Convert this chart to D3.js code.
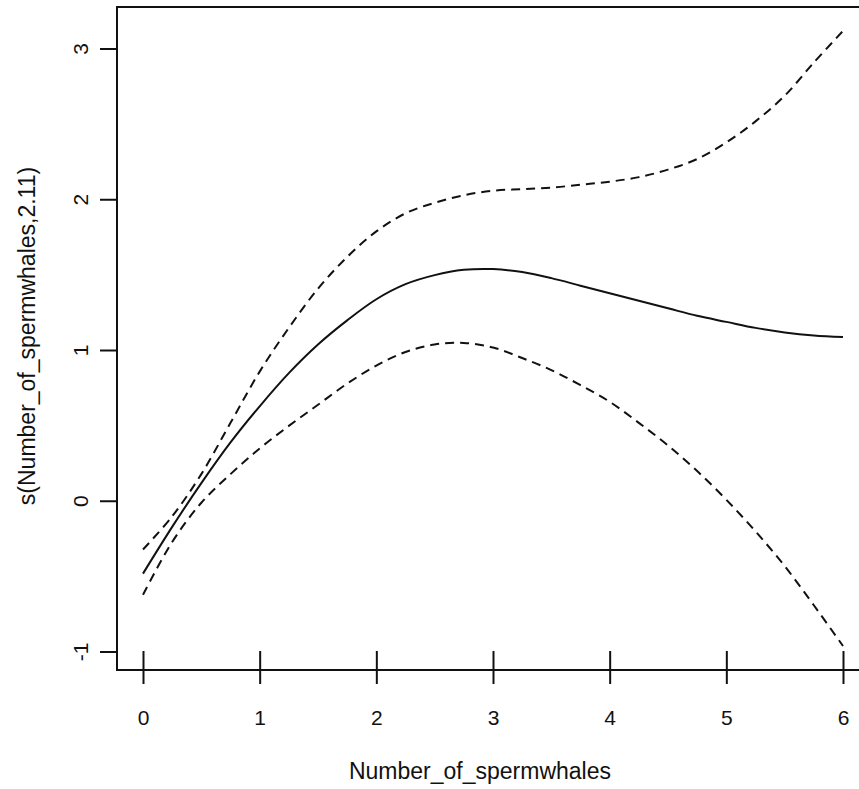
<!DOCTYPE html>
<html>
<head>
<meta charset="utf-8">
<script src="https://cdn.jsdelivr.net/npm/d3@7"></script>
<style>
  body { margin: 0; background: #fff; }
  svg { display: block; }
  text { font-family: 'Liberation Sans', Arial, sans-serif; fill: #111; }
</style>
</head>
<body>
<div id="chart"></div>
<script>
// grid of the smooth term
const xValues = [0, 0.25, 0.5, 0.75, 1, 1.25, 1.5, 1.75, 2, 2.25, 2.5, 2.75, 3,
  3.25, 3.5, 3.75, 4, 4.25, 4.5, 4.75, 5, 5.25, 5.5, 5.75, 6];
const fitValues = [-0.48, -0.17, 0.12, 0.39, 0.63, 0.85, 1.04, 1.20, 1.34, 1.44, 1.50, 1.535, 1.54,
  1.52, 1.48, 1.43, 1.38, 1.33, 1.28, 1.23, 1.19, 1.15, 1.12, 1.10, 1.09];
const upperValues = [-0.32, -0.10, 0.18, 0.52, 0.86, 1.15, 1.41, 1.62, 1.79, 1.91, 1.98, 2.03, 2.06,
  2.07, 2.08, 2.10, 2.12, 2.15, 2.20, 2.27, 2.38, 2.52, 2.69, 2.91, 3.12];
const lowerValues = [-0.62, -0.27, -0.01, 0.18, 0.35, 0.50, 0.64, 0.78, 0.90, 0.99, 1.04, 1.05, 1.02,
  0.95, 0.87, 0.77, 0.66, 0.52, 0.37, 0.20, 0.01, -0.20, -0.43, -0.69, -0.96];

const xTicks = [0, 1, 2, 3, 4, 5, 6];
const yTicks = [-1, 0, 1, 2, 3];
const xTitle = 'Number_of_spermwhales';
const yTitle = 's(Number_of_spermwhales,2.11)';

const width = 859;
const height = 789;
const ink = '#111';

const svg = d3.select('#chart')
  .append('svg')
  .attr('width', width)
  .attr('height', height);

const x = d3.scaleLinear().domain([0, 6]).range([143, 843]);
const y = d3.scaleLinear().domain([-1, 3]).range([652, 49]);

// box: left, top, bottom (right side runs off the picture)
const boxLeft = 117;
const boxTop = 7;
const boxBottom = 670;
svg.append('path')
  .attr('d', `M${width + 5},${boxTop}H${boxLeft}V${boxBottom}H${width + 5}`)
  .attr('fill', 'none')
  .attr('stroke', ink)
  .attr('stroke-width', 2);

// x axis: ticks crossing the bottom line
const xAxis = svg.append('g')
  .attr('transform', 'translate(0,651)')
  .call(d3.axisBottom(x)
    .tickValues(xTicks)
    .tickSize(33)
    .tickPadding(26)
    .tickFormat(d3.format('d')));
xAxis.select('.domain').remove();
xAxis.selectAll('line').attr('stroke', ink).attr('stroke-width', 2);
xAxis.selectAll('text')
  .attr('fill', ink)
  .style('font-size', '21px')
  .style('font-family', "'Liberation Sans', Arial, sans-serif");

// y axis ticks
svg.append('g')
  .selectAll('line')
  .data(yTicks)
  .enter()
  .append('line')
  .attr('x1', 100)
  .attr('x2', boxLeft)
  .attr('y1', d => y(d))
  .attr('y2', d => y(d))
  .attr('stroke', ink)
  .attr('stroke-width', 2);

svg.append('g')
  .selectAll('text')
  .data(yTicks)
  .enter()
  .append('text')
  .attr('transform', d => `translate(88,${y(d)}) rotate(-90)`)
  .attr('text-anchor', 'middle')
  .style('font-size', '21px')
  .text(d => d);

// axis titles
svg.append('text')
  .attr('x', 480)
  .attr('y', 779)
  .attr('text-anchor', 'middle')
  .style('font-size', '23px')
  .text(xTitle);

svg.append('text')
  .attr('transform', 'translate(35,336) rotate(-90)')
  .attr('text-anchor', 'middle')
  .style('font-size', '23px')
  .text(yTitle);

// curves
const line = d3.line()
  .x(d => x(d[0]))
  .y(d => y(d[1]))
  .curve(d3.curveCatmullRom);

const series = [
  { values: fitValues, dash: null },
  { values: upperValues, dash: '9,6' },
  { values: lowerValues, dash: '9,6' },
];

svg.append('g')
  .selectAll('path')
  .data(series)
  .enter()
  .append('path')
  .attr('d', s => line(xValues.map((v, i) => [v, s.values[i]])))
  .attr('fill', 'none')
  .attr('stroke', ink)
  .attr('stroke-width', 2)
  .attr('stroke-dasharray', s => s.dash);
</script>
</body>
</html>
